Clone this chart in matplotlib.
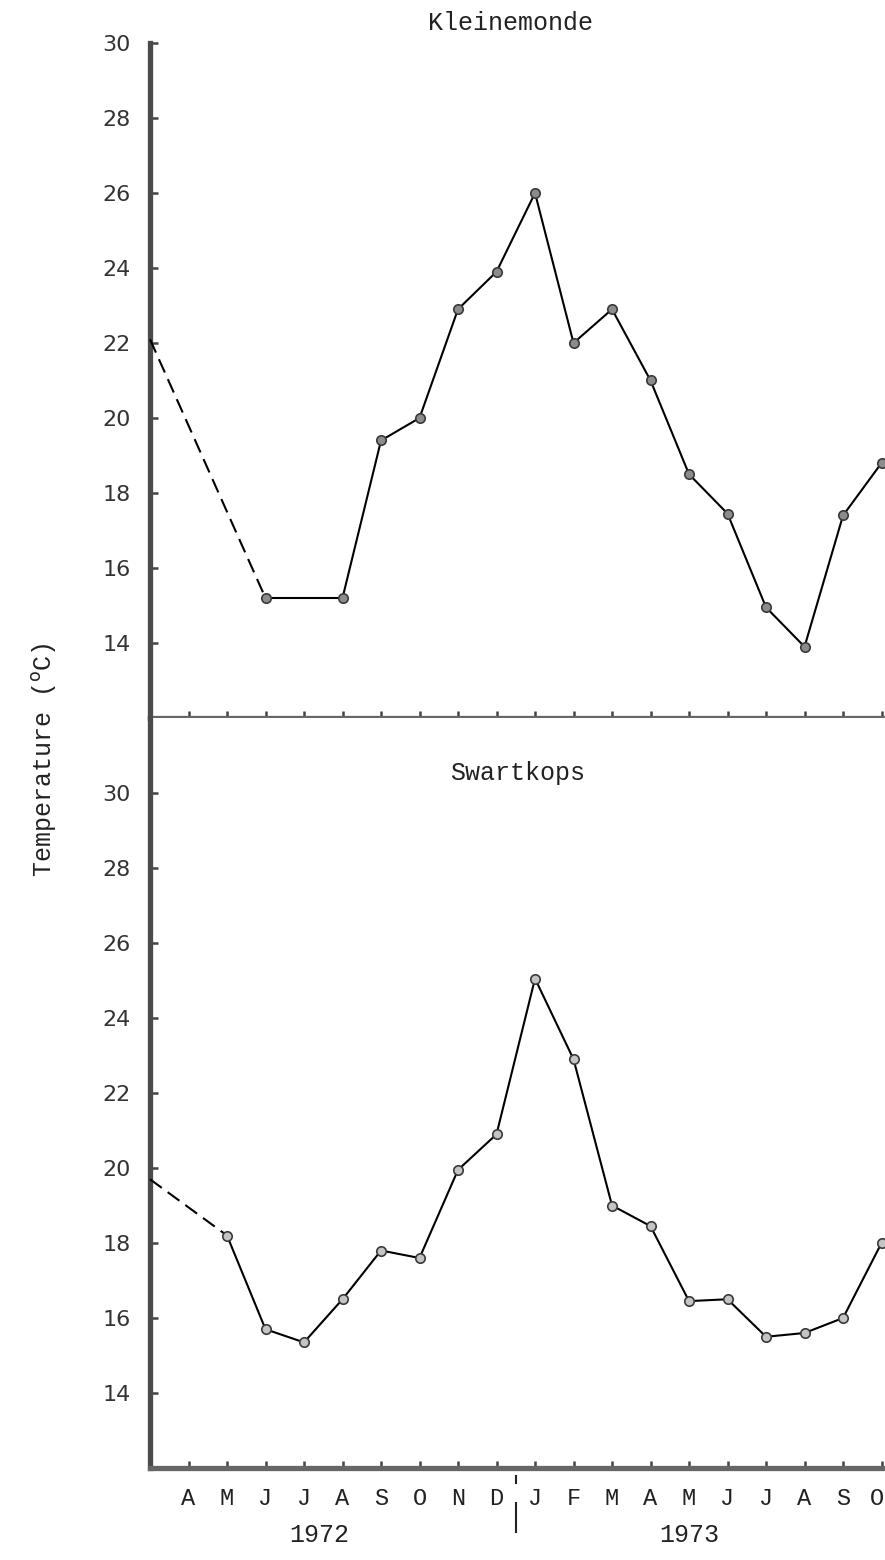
import numpy as np
import matplotlib.pyplot as plt
from matplotlib.transforms import ScaledTranslation

# Monthly temperature, March 1972 (index 0) to October 1973; NaN = no sample
months = ['M', 'A', 'M', 'J', 'J', 'A', 'S', 'O', 'N', 'D',
          'J', 'F', 'M', 'A', 'M', 'J', 'J', 'A', 'S', 'O']
years = ['1972', '1973']
year_pos = [4.4, 14.0]
kleinemonde = [22.1, np.nan, np.nan, 15.2, np.nan, 15.2, 19.4, 20.0, 22.9, 23.9,
               26.0, 22.0, 22.9, 21.0, 18.5, 17.45, 14.95, 13.9, 17.4, 18.8]
swartkops = [19.7, np.nan, 18.2, 15.7, 15.35, 16.5, 17.8, 17.6, 19.95, 20.9,
             25.05, 22.9, 19.0, 18.45, 16.45, 16.5, 15.5, 15.6, 16.0, 18.0]

mono = 'Liberation Mono'
x = np.arange(len(months))

fig = plt.figure(figsize=(8.85, 15.6), dpi=100)
ax1 = fig.add_axes([150/885, 1 - 718/1560, 735/885, 675/1560])
ax2 = fig.add_axes([150/885, 1 - 1468/1560, 735/885, 750/1560])


def draw_series(ax, vals, face):
    vals = np.asarray(vals)
    ok = ~np.isnan(vals)
    xs, ys = x[ok], vals[ok]
    # first value is an extrapolated start, joined with a dashed line
    ax.plot(xs[:2], ys[:2], color='black', lw=1.5, ls=(0, (7, 3.5)),
            clip_on=False, zorder=3)
    ax.plot(xs[1:], ys[1:], color='black', lw=1.5, marker='o', ms=6.8,
            mfc=face, mec='#3a3a3a', mew=1.2, clip_on=False, zorder=3)


draw_series(ax1, kleinemonde, '#8c8c8c')
draw_series(ax2, swartkops, '#c4c4c4')

for ax, lo, hi in [(ax1, 12, 30), (ax2, 12, 32)]:
    ax.set_xlim(0, 19.09)
    ax.set_ylim(lo, hi)
    ax.set_yticks(np.arange(14, 31, 2))
    ax.set_xticks(x[1:])
    for s in ['top', 'right']:
        ax.spines[s].set_visible(False)
    ax.spines['left'].set_linewidth(3.8)
    ax.spines['left'].set_color('#4a4a4a')
    ax.spines['bottom'].set_linewidth(3.8)
    ax.spines['bottom'].set_color('#666666')
    ax.tick_params(axis='y', direction='in', length=6, width=1.8, color='#444',
                   pad=14, labelsize=16, labelcolor='#333')
    ax.tick_params(axis='x', direction='in', length=5, width=1.8, color='#444')
    for t in ax.get_yticklabels():
        t.set_fontfamily('DejaVu Sans')

ax1.set_xticklabels([])
ax2.set_xticklabels(months[1:], fontfamily=mono, fontsize=17, color='#222')
ax2.tick_params(axis='x', pad=14)
# keep the last month letter inside the figure edge
last = ax2.get_xticklabels()[-1]
last.set_transform(last.get_transform() + ScaledTranslation(-5/100, 0, fig.dpi_scale_trans))

ax1.text(0.49, 1.03, 'Kleinemonde', transform=ax1.transAxes, ha='center',
         va='center', fontfamily=mono, fontsize=18, color='#222')
ax2.text(0.5, 0.927, 'Swartkops', transform=ax2.transAxes, ha='center',
         va='center', fontfamily=mono, fontsize=18, color='#222')

# year captions and the divider between December and January
for yr, xp in zip(years, year_pos):
    ax2.text(xp, -0.09, yr, transform=ax2.get_xaxis_transform(), ha='center',
             va='center', fontfamily=mono, fontsize=18, color='#222')
ax2.plot([9.5, 9.5], [-0.047, -0.085], transform=ax2.get_xaxis_transform(),
         color='#222', lw=1.5, clip_on=False)
ax2.plot([9.5, 9.5], [-0.011, -0.02], transform=ax2.get_xaxis_transform(),
         color='#222', lw=1.5, clip_on=False)

fig.text(0.05, 0.513, 'Temperature ($^{\\mathrm{o}}$C)', rotation=90, ha='center',
         va='center', fontfamily=mono, fontsize=18, color='#222')

fig.savefig('out.png', dpi=100)
